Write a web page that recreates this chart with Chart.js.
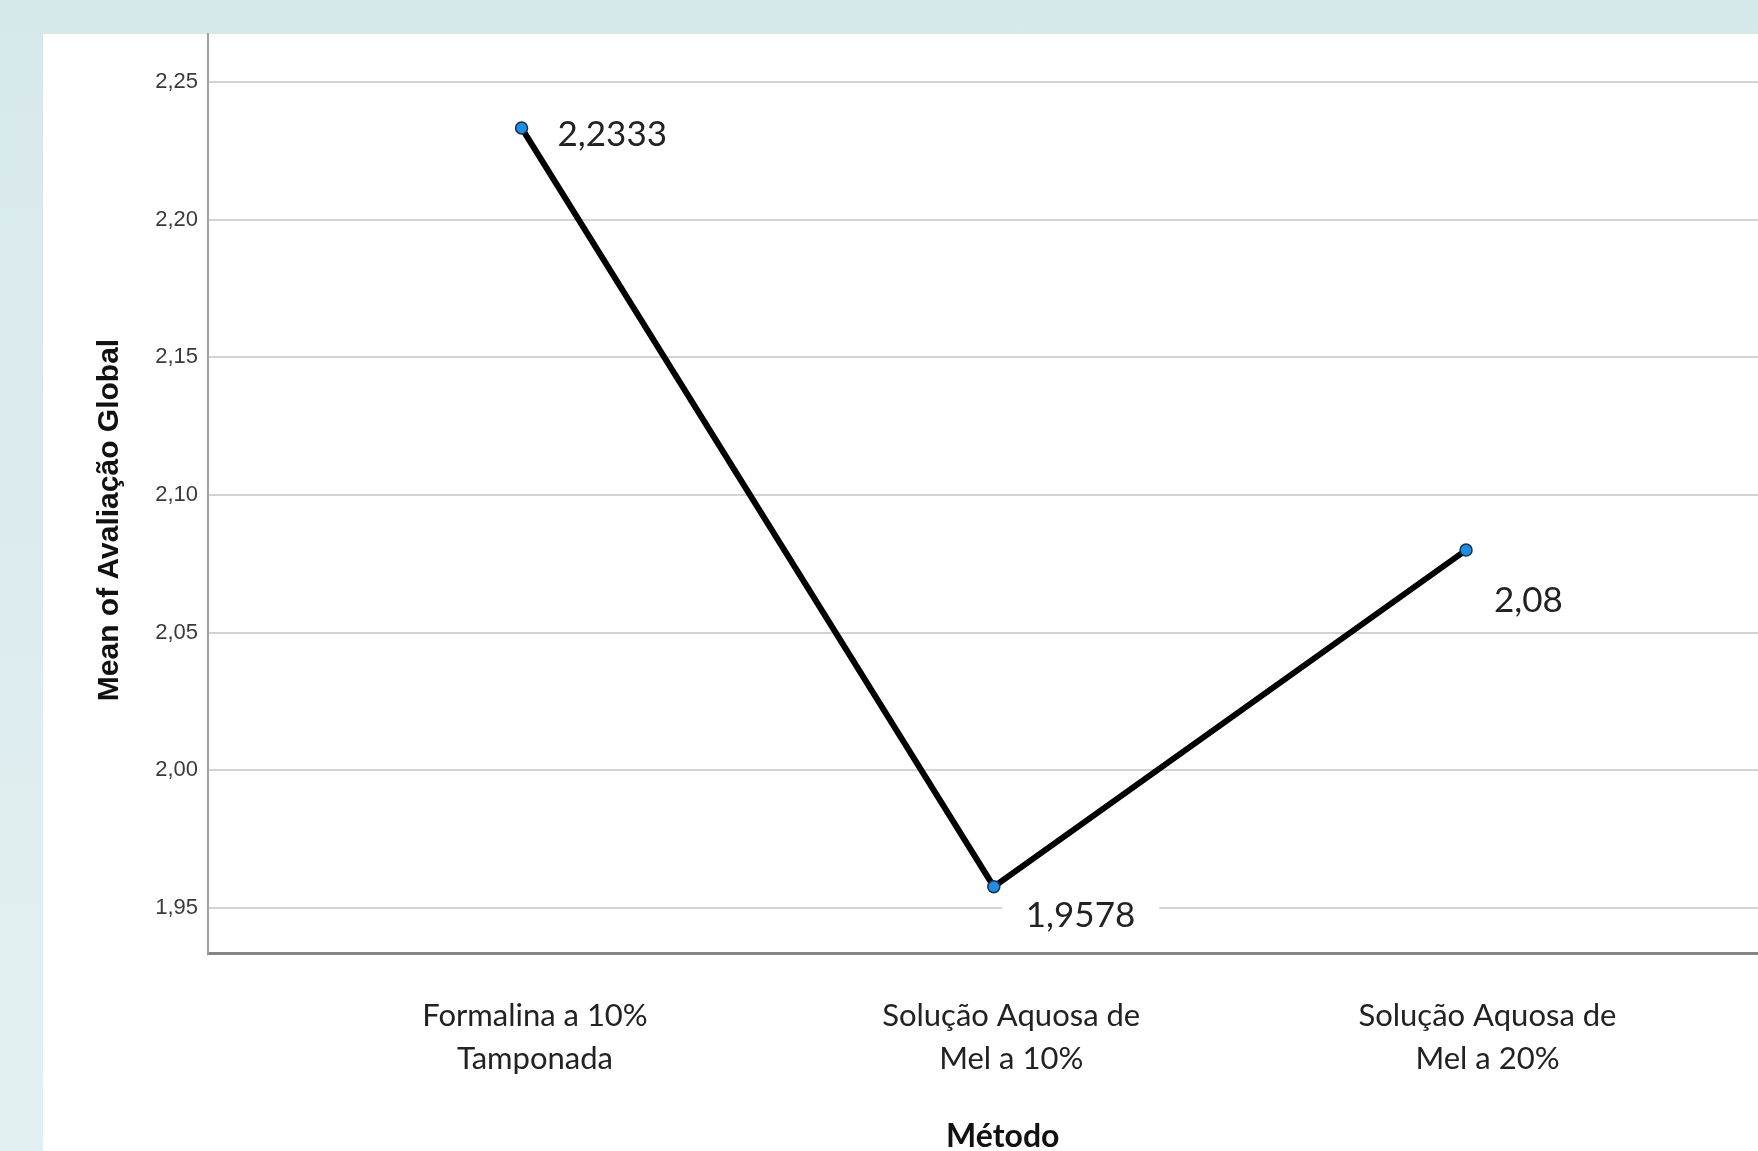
<!DOCTYPE html>
<html lang="pt">
<head>
<meta charset="utf-8">
<title>Mean of Avaliação Global por Método</title>
<script src="https://cdn.jsdelivr.net/npm/chart.js@4/dist/chart.umd.min.js"></script>
<style>
  html, body {
    margin: 0;
    padding: 0;
    width: 1758px;
    height: 1151px;
    overflow: hidden;
    background: linear-gradient(#d7e8eb, #e3f0f1);
  }
  #panel {
    position: absolute;
    left: 43px;
    top: 34px;
    right: 0;
    bottom: 0;
    background: #fff;
  }
  #chart {
    position: absolute;
    left: 0;
    top: 0;
  }
</style>
</head>
<body>
<div id="panel"></div>
<canvas id="chart" width="1805" height="1165"></canvas>
<script>
// dados
const categories = [
  ['Formalina a 10%', 'Tamponada'],
  ['Solução Aquosa de', 'Mel a 10%'],
  ['Solução Aquosa de', 'Mel a 20%']
];
const means = [2.2333, 1.9578, 2.08];
const yTicks = [1.95, 2.00, 2.05, 2.10, 2.15, 2.20, 2.25];
const xTitle = 'Método';
const yTitle = 'Mean of Avaliação Global';

// deslocamento (px) dos rótulos de valor em relação ao ponto
const labelOffsets = [[36, 7], [32, 29], [28, 51]];

const fmt = v => String(v).replace('.', ',');

// caixas brancas + texto dos valores
const valueLabels = {
  id: 'valueLabels',
  beforeDatasetsDraw(chart) {
    const ctx = chart.ctx;
    const meta = chart.getDatasetMeta(0);
    ctx.save();
    ctx.font = '35px Lato';
    meta.data.forEach((pt, i) => {
      const [dx, dy] = labelOffsets[i];
      const w = ctx.measureText(fmt(means[i])).width;
      ctx.fillStyle = '#fff';
      ctx.fillRect(pt.x + dx - 24, pt.y + dy - 21, w + 48, 42);
    });
    ctx.restore();
  },
  afterDatasetsDraw(chart) {
    const ctx = chart.ctx;
    const meta = chart.getDatasetMeta(0);
    ctx.save();
    ctx.font = '35px Lato';
    ctx.fillStyle = '#222';
    ctx.textAlign = 'left';
    ctx.textBaseline = 'middle';
    meta.data.forEach((pt, i) => {
      const [dx, dy] = labelOffsets[i];
      ctx.fillText(fmt(means[i]), pt.x + dx, pt.y + dy);
    });
    ctx.restore();
  },
  afterDraw(chart) {
    // título do eixo Y
    const ctx = chart.ctx;
    ctx.save();
    ctx.translate(110, 520);
    ctx.rotate(-Math.PI / 2);
    ctx.font = 'bold 30px "Liberation Sans"';
    ctx.fillStyle = '#111';
    ctx.textAlign = 'center';
    ctx.textBaseline = 'middle';
    ctx.fillText(yTitle, 0, 0);
    ctx.restore();
  }
};

new Chart(document.getElementById('chart'), {
  type: 'line',
  data: {
    datasets: [{
      label: yTitle,
      data: means.map((v, i) => ({ x: i, y: v })),
      borderColor: '#000',
      borderWidth: 6,
      pointRadius: 6,
      pointBackgroundColor: '#1f8ee0',
      pointBorderColor: '#17324f',
      pointBorderWidth: 1.5,
      tension: 0,
      xAxisID: 'x',
      yAxisID: 'y'
    }]
  },
  options: {
    responsive: false,
    animation: false,
    events: [],
    layout: { padding: { top: 34, left: 0, right: 0, bottom: 0 } },
    plugins: {
      legend: { display: false },
      tooltip: { enabled: false }
    },
    scales: {
      x: {
        type: 'linear',
        display: false,
        min: -0.6639,
        max: 2.7018
      },
      xLabels: {
        type: 'linear',
        position: 'bottom',
        min: -0.6865,
        max: 2.651,
        afterBuildTicks: axis => {
          axis.ticks = categories.map((c, i) => ({ value: i }));
        },
        afterFit: axis => { axis.height = 212; },
        grid: { display: false, drawTicks: false },
        border: { display: true, color: '#858585', width: 3 },
        ticks: {
          padding: 41,
          color: '#222',
          maxRotation: 0,
          autoSkip: false,
          font: { family: 'Lato', size: 31, lineHeight: 1.39 },
          callback: v => categories[v]
        },
        title: {
          display: true,
          text: xTitle,
          color: '#111',
          font: { family: 'Lato', size: 32, weight: 'bold' },
          padding: { top: 0, bottom: 9 }
        }
      },
      y: {
        type: 'linear',
        min: 1.9337,
        max: 2.2674,
        afterBuildTicks: axis => {
          axis.ticks = yTicks.map(v => ({ value: v }));
        },
        afterFit: axis => { axis.width = 208; },
        grid: { color: '#d3d3d3', lineWidth: 2, drawTicks: false },
        border: { display: true, color: '#a0a0a0', width: 2 },
        ticks: {
          padding: 10,
          color: '#3a3a3a',
          font: { family: 'Liberation Sans', size: 22 },
          callback: v => v.toFixed(2).replace('.', ',')
        }
      }
    }
  },
  plugins: [valueLabels]
});
</script>
</body>
</html>
